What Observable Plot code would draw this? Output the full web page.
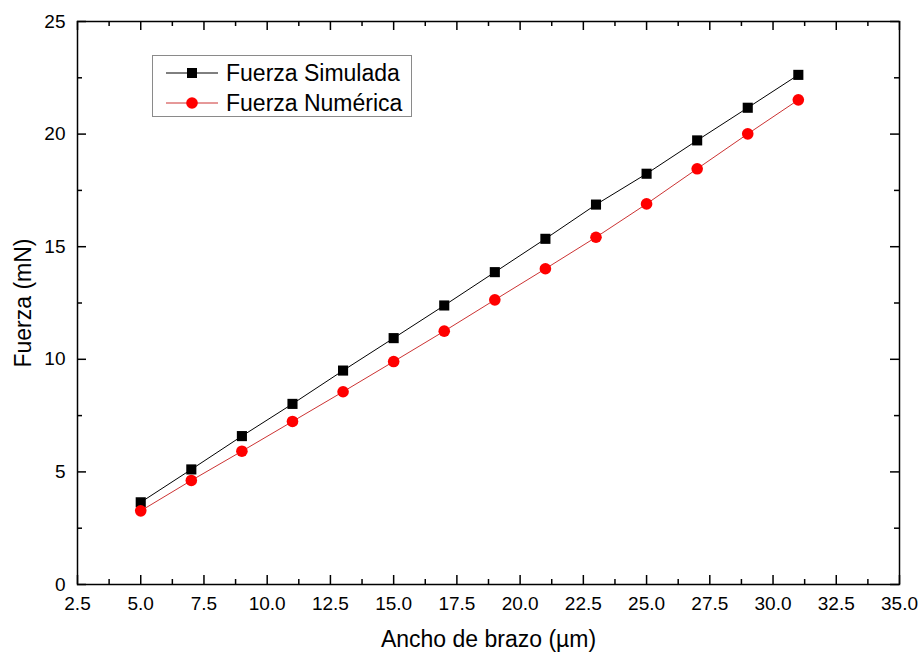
<!DOCTYPE html>
<html>
<head>
<meta charset="utf-8">
<script src="https://cdn.jsdelivr.net/npm/d3@7"></script>
<script src="https://cdn.jsdelivr.net/npm/@observablehq/plot@0.6"></script>
<style>
  html, body { margin: 0; padding: 0; background: #fff; }
  #wrap { position: relative; width: 919px; height: 652px; font-family: "Liberation Sans", Arial, sans-serif; }
  #legend { position: absolute; left: 152px; top: 55px; }
</style>
</head>
<body>
<div id="wrap"></div>
<script>
// ---- data ----
const anchoBrazo = [5, 7, 9, 11, 13, 15, 17, 19, 21, 23, 25, 27, 29, 31];
const fuerzaSimulada = [3.65, 5.11, 6.59, 8.02, 9.50, 10.94, 12.39, 13.87, 15.35, 16.87, 18.24, 19.72, 21.17, 22.63];
const fuerzaNumerica = [3.27, 4.62, 5.92, 7.24, 8.56, 9.90, 11.25, 12.64, 14.02, 15.42, 16.90, 18.46, 20.01, 21.52];
const seriesNames = ["Fuerza Simulada", "Fuerza Numérica"];
const xMajorTicks = [2.5, 5, 7.5, 10, 12.5, 15, 17.5, 20, 22.5, 25, 27.5, 30, 32.5, 35];
const xMinorTicks = [3.75, 6.25, 8.75, 11.25, 13.75, 16.25, 18.75, 21.25, 23.75, 26.25, 28.75, 31.25, 33.75];
const yMajorTicks = [0, 5, 10, 15, 20, 25];
const yMinorTicks = [2.5, 7.5, 12.5, 17.5, 22.5];
const xTitle = "Ancho de brazo (µm)";
const yTitle = "Fuerza (mN)";

const simData = anchoBrazo.map((x, i) => ({x, y: fuerzaSimulada[i]}));
const numData = anchoBrazo.map((x, i) => ({x, y: fuerzaNumerica[i]}));

const font = "Liberation Sans, Arial, sans-serif";
const W = 919, H = 652, mL = 77, mR = 20, mT = 21, mB = 68;
const fw = W - mL - mR, fh = H - mT - mB;
const majorLen = 9, minorLen = 5;

const chart = Plot.plot({
  width: W,
  height: H,
  marginLeft: mL,
  marginRight: mR,
  marginTop: mT,
  marginBottom: mB,
  style: {fontFamily: font, fontSize: "19px", background: "#fff", color: "#000"},
  x: {domain: [2.5, 35], axis: "bottom", ticks: xMajorTicks, tickSize: 0, tickPadding: 12, tickFormat: d => d.toFixed(1), label: null},
  y: {domain: [0, 25], axis: "left", ticks: yMajorTicks, tickSize: 0, tickPadding: 12, tickFormat: d => String(d), label: null},
  marks: [
    // lines
    Plot.line(simData, {x: "x", y: "y", stroke: "#000", strokeWidth: 1}),
    Plot.line(numData, {x: "x", y: "y", stroke: "#cc3333", strokeWidth: 1}),
    // markers
    Plot.dot(simData, {x: "x", y: "y", symbol: "square", r: 5.7, fill: "#000", stroke: "none"}),
    Plot.dot(numData, {x: "x", y: "y", symbol: "circle", r: 5.8, fill: "#ff0000", stroke: "none"}),
    // frame
    Plot.frame({stroke: "#000", strokeWidth: 1.5}),
    // inward ticks: bottom / top
    Plot.tickX(xMajorTicks, {x: d => d, insetTop: fh - majorLen, stroke: "#000", strokeWidth: 1.5}),
    Plot.tickX(xMinorTicks, {x: d => d, insetTop: fh - minorLen, stroke: "#000", strokeWidth: 1.5}),
    Plot.tickX(xMajorTicks, {x: d => d, insetBottom: fh - majorLen, stroke: "#000", strokeWidth: 1.5}),
    Plot.tickX(xMinorTicks, {x: d => d, insetBottom: fh - minorLen, stroke: "#000", strokeWidth: 1.5}),
    // inward ticks: left / right
    Plot.tickY(yMajorTicks, {y: d => d, insetRight: fw - majorLen, stroke: "#000", strokeWidth: 1.5}),
    Plot.tickY(yMinorTicks, {y: d => d, insetRight: fw - minorLen, stroke: "#000", strokeWidth: 1.5}),
    Plot.tickY(yMajorTicks, {y: d => d, insetLeft: fw - majorLen, stroke: "#000", strokeWidth: 1.5}),
    Plot.tickY(yMinorTicks, {y: d => d, insetLeft: fw - minorLen, stroke: "#000", strokeWidth: 1.5}),
    // axis titles
    Plot.text([xTitle], {frameAnchor: "bottom", lineAnchor: "middle", textAnchor: "middle", dy: 55, fontSize: 23, fill: "#000"}),
    Plot.text([yTitle], {frameAnchor: "left", lineAnchor: "middle", textAnchor: "middle", rotate: -90, dx: -54, fontSize: 23, fill: "#000"})
  ]
});

const wrap = document.getElementById("wrap");
wrap.appendChild(chart);

// legend
const ns = "http://www.w3.org/2000/svg";
const leg = document.createElementNS(ns, "svg");
leg.setAttribute("id", "legend");
leg.setAttribute("width", 262);
leg.setAttribute("height", 63);
const box = document.createElementNS(ns, "rect");
box.setAttribute("x", 0.5); box.setAttribute("y", 0.5);
box.setAttribute("width", 259); box.setAttribute("height", 61);
box.setAttribute("fill", "#fff"); box.setAttribute("stroke", "#8a8a8a"); box.setAttribute("stroke-width", 1);
leg.appendChild(box);
const styles = [
  {stroke: "#000", fill: "#000", sym: "square"},
  {stroke: "#cc3333", fill: "#ff0000", sym: "circle"}
];
seriesNames.forEach((name, i) => {
  const cy = 18 + i * 30;
  const ln = document.createElementNS(ns, "line");
  ln.setAttribute("x1", 14); ln.setAttribute("x2", 66);
  ln.setAttribute("y1", cy); ln.setAttribute("y2", cy);
  ln.setAttribute("stroke", styles[i].stroke); ln.setAttribute("stroke-width", 1);
  leg.appendChild(ln);
  let m;
  if (styles[i].sym === "square") {
    m = document.createElementNS(ns, "rect");
    m.setAttribute("x", 40 - 5); m.setAttribute("y", cy - 5);
    m.setAttribute("width", 10); m.setAttribute("height", 10);
  } else {
    m = document.createElementNS(ns, "circle");
    m.setAttribute("cx", 40); m.setAttribute("cy", cy); m.setAttribute("r", 5.8);
  }
  m.setAttribute("fill", styles[i].fill);
  leg.appendChild(m);
  const t = document.createElementNS(ns, "text");
  t.setAttribute("x", 74); t.setAttribute("y", cy);
  t.setAttribute("dy", "0.35em");
  t.setAttribute("font-size", 23);
  t.setAttribute("font-family", font);
  t.setAttribute("fill", "#000");
  t.textContent = name;
  leg.appendChild(t);
});
wrap.appendChild(leg);
</script>
</body>
</html>
